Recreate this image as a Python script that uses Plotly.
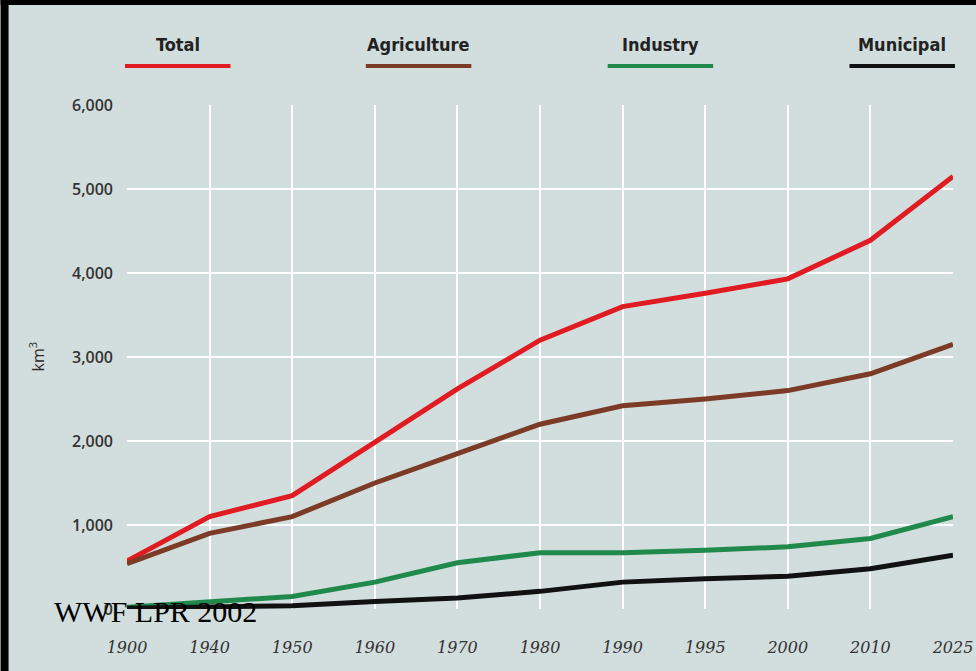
import plotly.graph_objects as go

years = ["1900", "1940", "1950", "1960", "1970", "1980", "1990", "1995", "2000", "2010", "2025"]
total = [570, 1100, 1350, 1980, 2620, 3200, 3600, 3760, 3930, 4390, 5150]
agriculture = [540, 900, 1100, 1500, 1850, 2200, 2420, 2500, 2600, 2800, 3150]
industry = [20, 90, 150, 320, 550, 670, 670, 700, 740, 840, 1100]
municipal = [10, 20, 40, 90, 130, 210, 320, 360, 390, 480, 640]

series_names = ["Total", "Agriculture", "Industry", "Municipal"]
series_values = [total, agriculture, industry, municipal]
series_colors = ["#e01b22", "#7b3b26", "#1f8a4c", "#111111"]

y_ticks = [0, 1000, 2000, 3000, 4000, 5000, 6000]

BG = "#d2dddd"
W, H = 976, 671
ML, MR, MT, MB = 127, 3, 105, 62
PW, PH = 830, H - MT - MB


def px_x(p):
    return (p - ML) / PW


def px_y(p):
    return (H - MB - p) / PH


fig = go.Figure()
for name, vals, col in zip(series_names, series_values, series_colors):
    fig.add_trace(go.Scatter(x=years, y=vals, mode="lines", name=name,
                             line=dict(color=col, width=5), showlegend=False))

# legend built as label above a colored dash
leg_centers = [178, 420, 663, 906]
shapes = []
annotations = []
for name, col, cx in zip(series_names, series_colors, leg_centers):
    annotations.append(dict(xref="paper", yref="paper", x=px_x(cx), y=px_y(45),
                            text="<b>" + name + "</b>", showarrow=False,
                            font=dict(family="DejaVu Sans Condensed, Roboto", size=18, color="#222222"),
                            xanchor="center", yanchor="middle"))
    shapes.append(dict(type="line", xref="paper", yref="paper",
                       x0=px_x(cx - 53), x1=px_x(cx + 53), y0=px_y(66), y1=px_y(66),
                       line=dict(color=col, width=4)))

# black frame strips at left and top
shapes.append(dict(type="rect", xref="paper", yref="paper", x0=px_x(0), x1=px_x(8),
                   y0=px_y(H), y1=px_y(0), fillcolor="black", line=dict(width=0)))
shapes.append(dict(type="rect", xref="paper", yref="paper", x0=px_x(0), x1=px_x(W + 20),
                   y0=px_y(5), y1=px_y(0), fillcolor="black", line=dict(width=0)))

annotations.append(dict(xref="paper", yref="paper", x=px_x(37), y=px_y(356),
                        text="km<sup>3</sup>", showarrow=False, textangle=-90,
                        font=dict(family="Open Sans", size=16, color="#2b2b2b"),
                        xanchor="center", yanchor="middle"))
annotations.append(dict(xref="paper", yref="paper", x=px_x(52), y=px_y(611),
                        text="WWF LPR 2002", showarrow=False,
                        font=dict(family="Liberation Serif", size=30, color="black"),
                        xanchor="left", yanchor="middle"))

fig.update_layout(
    width=W, height=H,
    margin=dict(l=ML, r=MR, t=MT, b=MB),
    paper_bgcolor=BG, plot_bgcolor=BG,
    shapes=shapes, annotations=annotations,
    xaxis=dict(type="category", categoryorder="array", categoryarray=years,
               range=[0, len(years) - 1], showgrid=True, gridcolor="white", gridwidth=2,
               zeroline=False, showline=False, ticks="",
               ticklabelstandoff=27,
               tickfont=dict(family="DejaVu Serif", size=16, color="#333333", style="italic")),
    yaxis=dict(range=[0, 6000], tickvals=y_ticks, tickformat=",",
               showgrid=True, gridcolor="white", gridwidth=2,
               zeroline=False, showline=False, ticks="", ticklabelstandoff=13,
               tickfont=dict(family="Open Sans", size=16, color="#333333", weight=600)),
)

fig.write_html("out.html",
               config={"displayModeBar": False, "responsive": False},
               post_script=("document.body.style.margin='0';"
                            "document.body.style.overflow='hidden';"
                            "document.body.style.background='" + BG + "';"))
